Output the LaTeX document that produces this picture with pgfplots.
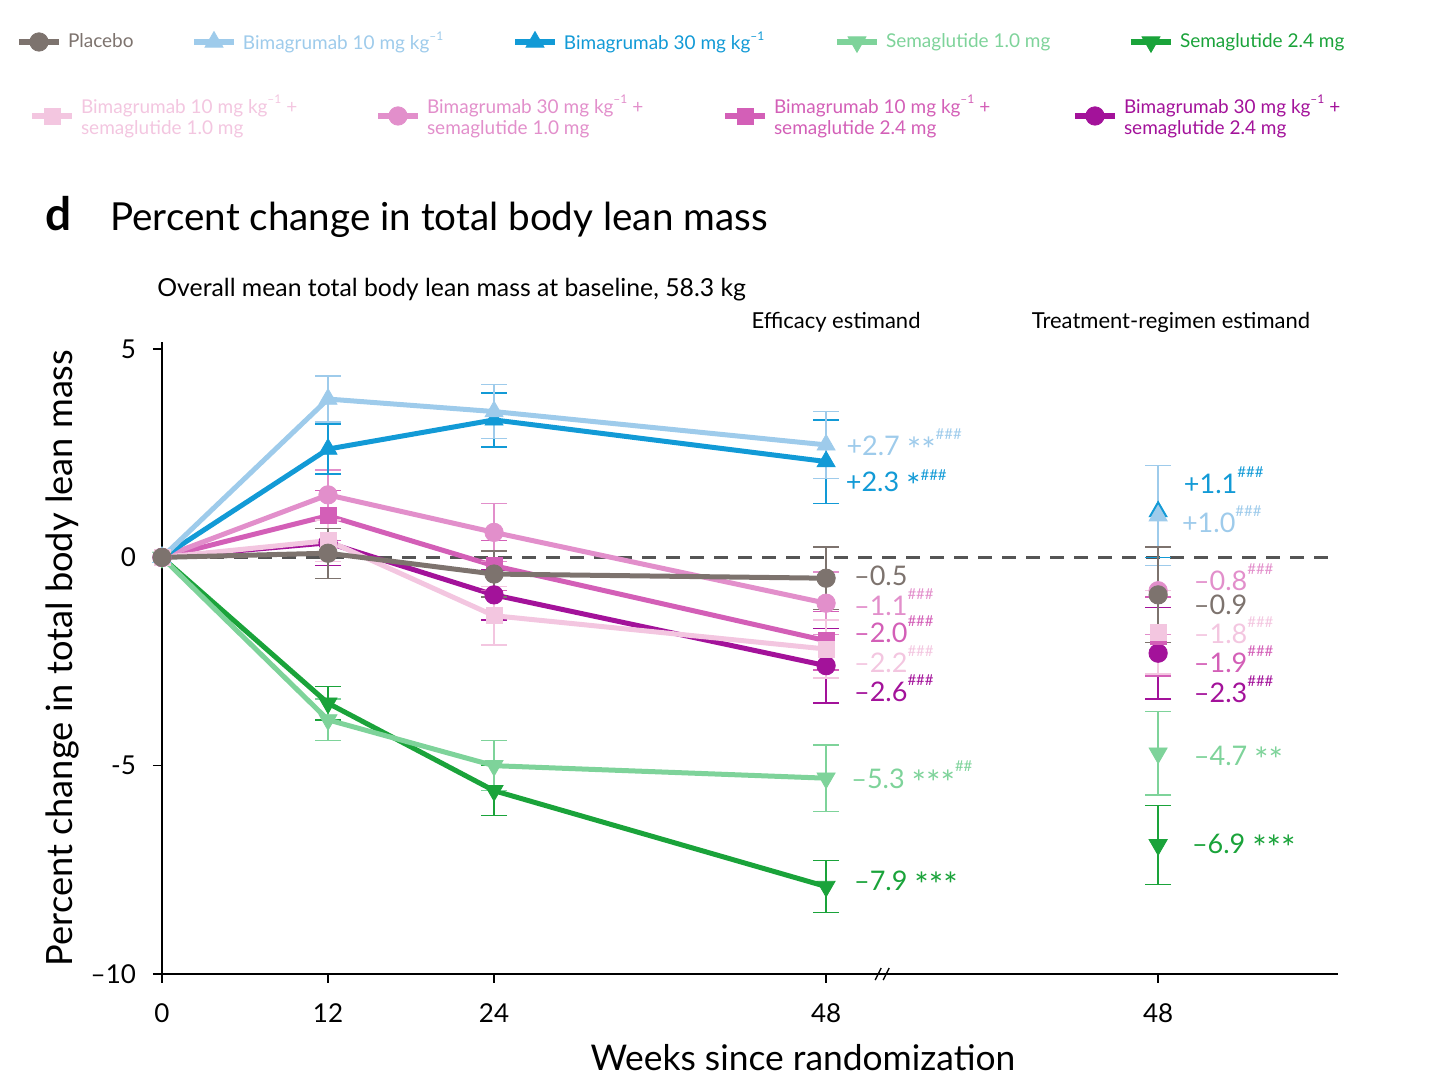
\documentclass[border=0pt]{standalone}
\usepackage{fontspec}
\setmainfont{Lato}
\usepackage{pgfplots}
\usepackage{pgfplotstable}
\pgfplotsset{compat=1.18}

\definecolor{cPla}{RGB}{125,115,110}
\definecolor{cBa}{RGB}{158,203,235}
\definecolor{cBb}{RGB}{18,154,214}
\definecolor{cSa}{RGB}{126,211,154}
\definecolor{cSb}{RGB}{26,163,58}
\definecolor{cCaa}{RGB}{243,198,224}
\definecolor{cCba}{RGB}{226,143,203}
\definecolor{cCab}{RGB}{211,95,183}
\definecolor{cCbb}{RGB}{163,18,154}
\definecolor{cZero}{RGB}{85,85,85}

% efficacy estimand: week, mean percent change, error half-width
\pgfplotstableread{
x y e
0 0 0
12 0.1 0.6
24 -0.4 0.55
48 -0.5 0.75
}\tPla
\pgfplotstableread{
x y e
0 0 0
12 3.8 0.55
24 3.5 0.65
48 2.7 0.8
}\tBa
\pgfplotstableread{
x y e
0 0 0
12 2.6 0.6
24 3.3 0.65
48 2.3 1.0
}\tBb
\pgfplotstableread{
x y e
0 0 0
12 -3.9 0.5
24 -5.0 0.6
48 -5.3 0.8
}\tSa
\pgfplotstableread{
x y e
0 0 0
12 -3.5 0.4
24 -5.6 0.6
48 -7.9 0.62
}\tSb
\pgfplotstableread{
x y e
0 0 0
12 0.4 0.5
24 -1.4 0.7
48 -2.2 0.7
}\tCaa
\pgfplotstableread{
x y e
0 0 0
12 1.5 0.6
24 0.6 0.7
48 -1.1 0.75
}\tCba
\pgfplotstableread{
x y e
0 0 0
12 1.0 0.6
24 -0.2 0.6
48 -2.0 0.7
}\tCab
\pgfplotstableread{
x y e
0 0 0
12 0.35 0.55
24 -0.9 0.6
48 -2.6 0.9
}\tCbb

\newcommand{\lab}{\fontsize{13.5}{15}\selectfont}
\newcommand{\legf}{\fontsize{9.5}{10.5}\selectfont}
\newcommand{\hs}[1]{\raisebox{0.6em}{\fontsize{7.5}{8}\selectfont #1}}
\newcommand{\hhh}{\hs{\#\#\#}}
\newcommand{\hhl}{\raisebox{0.42em}{\fontsize{7.5}{8}\selectfont\#\#\#}}
\newcommand{\st}[1]{\smash{\raisebox{-3.6pt}{\fontsize{17}{17}\selectfont #1}}}
\newcommand{\kgi}{\raisebox{0.5em}{\fontsize{6}{6}\selectfont –1}}

\pgfplotsset{
  ebars/.style={
    error bars/y dir=both, error bars/y explicit,
    error bars/error bar style={line width=0.7pt, draw=#1},
    error bars/error mark options={rotate=90, mark size=6.5pt, line width=0.7pt, draw=#1}},
  errbar/.style={forget plot, only marks, mark=none, color=#1, ebars=#1,
    skip coords between index={0}{1}},
  trend/.style={forget plot, color=#1, line width=2.5pt},
  tr/.style={forget plot, only marks, color=#1, ebars=#1},
  mcirc/.style={mark=*, mark size=4.6pt, mark options={solid, line width=0.4pt}},
  mup/.style={mark=triangle*, mark size=5.2pt, mark options={solid, line width=0.4pt}},
  mdown/.style={mark=triangle*, mark size=5.2pt, mark options={solid, rotate=180, line width=0.4pt}},
  msq/.style={mark=square*, mark size=4pt, mark options={solid, line width=0.4pt}},
}

\begin{document}
\begin{tikzpicture}
\path[use as bounding box] (-81pt,-58.5pt) rectangle (647pt,487pt);

\begin{axis}[
  scale only axis, width=588pt, height=316pt,
  xmin=0, xmax=85, ymin=-10, ymax=5.17,
  axis x line*=bottom, axis y line*=left,
  axis line style={line width=0.8pt, black},
  xtick={0,12,24,48,72}, xticklabels={0,12,24,48,48},
  ytick={-10,-5,0,5}, yticklabels={–10,-5,0,5},
  tick align=outside, major tick length=4.5pt,
  tick style={line width=0.8pt, black},
  /pgf/number format/assume math mode=true,
  ticklabel style={font=\fontsize{13}{15}\selectfont},
  xticklabel style={yshift=-7pt},
  yticklabel style={xshift=-5pt},
  xlabel={Weeks since randomization},
  xlabel style={font=\fontsize{17.7}{21}\selectfont, at={(axis description cs:0.545,-0.133)}, anchor=center},
  ylabel={Percent change in total body lean mass},
  ylabel style={font=\fontsize{18.1}{21}\selectfont, at={(axis description cs:-0.085,0.5)}, anchor=center},
  clip=false,
]
% reference line at zero change
\addplot[forget plot, cZero, line width=1.5pt, dash pattern=on 7pt off 5pt] coordinates {(0,0) (85,0)};

% efficacy estimand trajectories
\addplot[errbar=cSb] table[x=x, y=y, y error=e] {\tSb};
\addplot[trend=cSb, mdown] table[x=x, y=y] {\tSb};
\addplot[errbar=cSa] table[x=x, y=y, y error=e] {\tSa};
\addplot[trend=cSa, mdown] table[x=x, y=y] {\tSa};
\addplot[errbar=cCbb] table[x=x, y=y, y error=e] {\tCbb};
\addplot[trend=cCbb, mcirc] table[x=x, y=y] {\tCbb};
\addplot[errbar=cCab] table[x=x, y=y, y error=e] {\tCab};
\addplot[trend=cCab, msq] table[x=x, y=y] {\tCab};
\addplot[errbar=cCba] table[x=x, y=y, y error=e] {\tCba};
\addplot[trend=cCba, mcirc] table[x=x, y=y] {\tCba};
\addplot[errbar=cCaa] table[x=x, y=y, y error=e] {\tCaa};
\addplot[trend=cCaa, msq] table[x=x, y=y] {\tCaa};
\addplot[errbar=cBb] table[x=x, y=y, y error=e] {\tBb};
\addplot[trend=cBb, mup] table[x=x, y=y] {\tBb};
\addplot[errbar=cBa] table[x=x, y=y, y error=e] {\tBa};
\addplot[trend=cBa, mup] table[x=x, y=y] {\tBa};
\addplot[errbar=cPla] table[x=x, y=y, y error=e] {\tPla};
\addplot[trend=cPla, mcirc] table[x=x, y=y] {\tPla};

% treatment-regimen estimand at week 48
\addplot[tr=cSb, mdown] table[row sep=\\, x=x, y=y, y error=e] {x y e\\ 72 -6.9 0.95\\};
\addplot[tr=cSa, mdown] table[row sep=\\, x=x, y=y, y error=e] {x y e\\ 72 -4.7 1.0\\};
\addplot[tr=cCbb, mcirc] table[row sep=\\, x=x, y=y, y error=e] {x y e\\ 72 -2.3 1.1\\};
\addplot[tr=cCab, msq] table[row sep=\\, x=x, y=y, y error=e] {x y e\\ 72 -1.9 0.95\\};
\addplot[tr=cCba, mcirc] table[row sep=\\, x=x, y=y, y error=e] {x y e\\ 72 -0.8 1.05\\};
\addplot[tr=cCaa, msq] table[row sep=\\, x=x, y=y, y error=e] {x y e\\ 72 -1.8 1.0\\};
\addplot[tr=cBb, mup] table[row sep=\\, x=x, y=y, y error=e] {x y e\\ 72 1.1 1.1\\};
\addplot[tr=cBa, mup] table[row sep=\\, x=x, y=y, y error=e] {x y e\\ 72 1.0 1.2\\};
\addplot[tr=cPla, mcirc] table[row sep=\\, x=x, y=y, y error=e] {x y e\\ 72 -0.9 1.15\\};

% value labels, efficacy estimand
\begin{scope}[every node/.style={anchor=base west, inner sep=0pt, font=\lab}]
\node[text=cBa]  at (axis cs:49.45,2.44)  {+2.7 \st{**}\hhh};
\node[text=cBb]  at (axis cs:49.4,1.58)   {+2.3 \st{*}\hhl};
\node[text=cPla] at (axis cs:50.0,-0.67)  {–0.5};
\node[text=cCba] at (axis cs:50.0,-1.39)  {–1.1\hhh};
\node[text=cCab] at (axis cs:50.0,-2.04)  {–2.0\hhh};
\node[text=cCaa] at (axis cs:50.0,-2.76)  {–2.2\hhh};
\node[text=cCbb] at (axis cs:50.0,-3.46)  {–2.6\hhh};
\node[text=cSa]  at (axis cs:49.8,-5.54)  {–5.3 \st{***}\hs{\#\#}};
\node[text=cSb]  at (axis cs:50.0,-7.99)  {–7.9 \st{***}};
% value labels, treatment-regimen estimand
\node[text=cBb]  at (axis cs:73.84,1.54)  {+1.1\hhh};
\node[text=cBa]  at (axis cs:73.7,0.60)   {+1.0\hhh};
\node[text=cCba] at (axis cs:74.56,-0.79) {–0.8\hhh};
\node[text=cPla] at (axis cs:74.56,-1.37) {–0.9};
\node[text=cCaa] at (axis cs:74.56,-2.06) {–1.8\hhh};
\node[text=cCab] at (axis cs:74.56,-2.76) {–1.9\hhh};
\node[text=cCbb] at (axis cs:74.56,-3.48) {–2.3\hhh};
\node[text=cSa]  at (axis cs:74.56,-4.99) {–4.7 \st{**}};
\node[text=cSb]  at (axis cs:74.42,-7.10) {–6.9 \st{***}};
\end{scope}

% axis break marks
\draw[line width=0.7pt] (axis cs:52.2,-10) ++(-4.5pt,-3pt) -- ++(3pt,6pt);
\draw[line width=0.7pt] (axis cs:52.2,-10) ++(-0.5pt,-3pt) -- ++(3pt,6pt);
\end{axis}

% first legend row
\begin{axis}[hide axis, scale only axis, width=588pt, height=316pt,
  xmin=0, xmax=1, ymin=0, ymax=1,
  legend columns=5,
  legend style={at={(-0.12415,1.4747)}, anchor=west, draw=none, fill=none,
    inner sep=0pt, outer sep=0pt, column sep=0pt,
    nodes={inner sep=0pt, outer sep=0pt, font=\legf, anchor=west},
    /tikz/every odd column/.append style={column sep=3pt}},
  legend image code/.code={\draw[mark repeat=2,mark phase=2,#1] plot coordinates {(0pt,0pt) (10pt,0pt) (20pt,0pt)};},
]
\addlegendimage{cPla, line width=3pt, mcirc}
\addlegendentry{\makebox[61.5pt][l]{\color{cPla}Placebo}}
\addlegendimage{cBa, line width=3pt, mup}
\addlegendentry{\makebox[134.5pt][l]{\color{cBa}Bimagrumab 10 mg kg\kgi}}
\addlegendimage{cBb, line width=3pt, mup}
\addlegendentry{\makebox[135pt][l]{\color{cBb}Bimagrumab 30 mg kg\kgi}}
\addlegendimage{cSa, line width=3pt, mdown}
\addlegendentry{\makebox[121pt][l]{\color{cSa}Semaglutide 1.0 mg}}
\addlegendimage{cSb, line width=3pt, mdown}
\addlegendentry{\color{cSb}Semaglutide 2.4 mg}
\end{axis}

% second legend row
\begin{axis}[hide axis, scale only axis, width=588pt, height=316pt,
  xmin=0, xmax=1, ymin=0, ymax=1,
  legend columns=4,
  legend style={at={(-0.11309,1.3576)}, anchor=west, draw=none, fill=none,
    inner sep=0pt, outer sep=0pt, column sep=0pt,
    nodes={inner sep=0pt, outer sep=0pt, font=\legf, anchor=west},
    /tikz/every odd column/.append style={column sep=3pt}},
  legend image code/.code={\draw[mark repeat=2,mark phase=2,#1] plot coordinates {(0pt,0pt) (10pt,0pt) (20pt,0pt)};},
]
\addlegendimage{cCaa, line width=3pt, msq}
\addlegendentry{\makebox[147pt][l]{\color{cCaa}\raisebox{5.5pt}{\begin{tabular}{@{}l@{}}Bimagrumab 10 mg kg\kgi{} +\\semaglutide 1.0 mg\end{tabular}}}}
\addlegendimage{cCba, line width=3pt, mcirc}
\addlegendentry{\makebox[147.5pt][l]{\color{cCba}\raisebox{5.5pt}{\begin{tabular}{@{}l@{}}Bimagrumab 30 mg kg\kgi{} +\\semaglutide 1.0 mg\end{tabular}}}}
\addlegendimage{cCab, line width=3pt, msq}
\addlegendentry{\makebox[149pt][l]{\color{cCab}\raisebox{5.5pt}{\begin{tabular}{@{}l@{}}Bimagrumab 10 mg kg\kgi{} +\\semaglutide 2.4 mg\end{tabular}}}}
\addlegendimage{cCbb, line width=3pt, mcirc}
\addlegendentry{\color{cCbb}\raisebox{5.5pt}{\begin{tabular}{@{}l@{}}Bimagrumab 30 mg kg\kgi{} +\\semaglutide 2.4 mg\end{tabular}}}
\end{axis}

% headings
\node[anchor=base west, inner sep=0pt, font=\fontsize{23}{27}\selectfont\bfseries] at (-58.5pt,371.5pt) {d};
\node[anchor=base west, inner sep=0pt, font=\fontsize{19.3}{23}\selectfont] at (-26pt,371.5pt) {Percent change in total body lean mass};
\node[anchor=base west, inner sep=0pt, font=\fontsize{12.4}{14}\selectfont] at (-2.5pt,338.5pt) {Overall mean total body lean mass at baseline, 58.3 kg};
\node[anchor=base, inner sep=0pt, font=\fontsize{11}{14}\selectfont] at (337pt,322.5pt) {Efficacy estimand};
\node[anchor=base, inner sep=0pt, font=\fontsize{11}{14}\selectfont] at (504.5pt,322.5pt) {Treatment-regimen estimand};
\end{tikzpicture}
\end{document}
